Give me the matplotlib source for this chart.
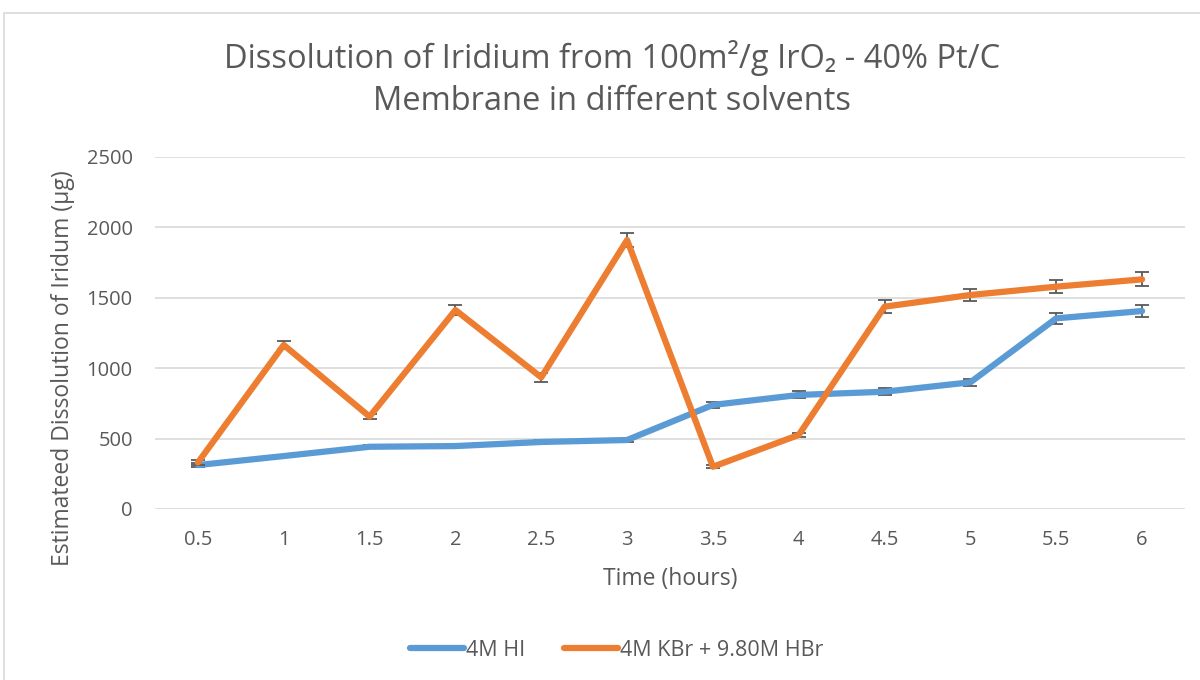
import matplotlib
matplotlib.use("Agg")
import matplotlib.pyplot as plt
from matplotlib.patches import Rectangle
from matplotlib.lines import Line2D
import numpy as np

categories = ["0.5", "1", "1.5", "2", "2.5", "3", "3.5", "4", "4.5", "5", "5.5", "6"]
hi_values = [312, 376, 442, 447, 476, 490, 739, 810, 833, 900, 1354, 1406]
hi_err = [15, 10, 10, 10, 12, 12, 23, 25, 25, 26, 40, 42]
kbr_values = [330, 1165, 656, 1413, 935, 1910, 300, 526, 1437, 1520, 1579, 1631]
kbr_err = [15, 28, 17, 35, 33, 50, 10, 15, 45, 44, 48, 50]
series_names = ["4M HI", "4M KBr + 9.80M HBr"]
yticks = [0, 500, 1000, 1500, 2000, 2500]

plt.rcParams['font.family'] = ['Open Sans', 'DejaVu Sans']
txt = '#595959'
colors = ['#5b9bd5', '#ed7d31']

fig = plt.figure(figsize=(12, 6.8), dpi=100)
fig.patches.append(Rectangle((4/1200, -0.01), 1.02, 1 - 13/680 + 0.01, transform=fig.transFigure,
                             fill=False, edgecolor='#d9d9d9', linewidth=1.2))
ax = fig.add_axes([155/1200, 1 - 509/680, (1185 - 155)/1200, (509 - 157)/680])

x = np.arange(len(categories))
ax.errorbar(x, hi_values, yerr=hi_err, color=colors[0], linewidth=4.5, ecolor='#595959',
            elinewidth=1.3, capsize=5, capthick=1.3, zorder=3, solid_capstyle='round')
ax.errorbar(x, kbr_values, yerr=kbr_err, color=colors[1], linewidth=4.5, ecolor='#595959',
            elinewidth=1.3, capsize=5, capthick=1.3, zorder=4, solid_capstyle='round')

ax.set_xlim(-0.5, len(categories) - 0.5)
ax.set_ylim(0, 2500)
ax.set_yticks(yticks)
ax.set_yticklabels([str(v) for v in yticks])
ax.set_xticks(x)
ax.set_xticklabels(categories)
ax.grid(axis='y', color='#d9d9d9', linewidth=1.2)
ax.set_axisbelow(True)
for s in ax.spines.values():
    s.set_visible(False)
ax.tick_params(length=0, labelsize=14.5, labelcolor=txt)
ax.tick_params(axis='x', pad=15)
ax.tick_params(axis='y', pad=16)

fig.text(670/1200, 1 - 579/680, "Time (hours)", ha='center', va='center',
         fontsize=16.5, color=txt)
fig.text(63/1200, 1 - 368/680, "Estimateed Dissolution of Iridum (µg)", ha='center',
         va='center', rotation=90, fontsize=16.5, color=txt)

fig.text(612/1200, 1 - 58/680, "Dissolution of Iridium from 100m²/g IrO₂ - 40% Pt/C",
         ha='center', va='center', fontsize=23.5, color=txt)
fig.text(612/1200, 1 - 102/680, "Membrane in different solvents",
         ha='center', va='center', fontsize=23.5, color=txt)

handles = [Line2D([], [], color=c, linewidth=4.5, solid_capstyle='round') for c in colors]
leg = fig.legend(handles, series_names, loc='center', bbox_to_anchor=(617/1200, 1 - 650/680),
                 ncol=2, frameon=False, fontsize=15.5, handlelength=2.5, handletextpad=0.1,
                 columnspacing=1.8)
for t in leg.get_texts():
    t.set_color(txt)

fig.savefig("out.png", dpi=100, facecolor='white')
